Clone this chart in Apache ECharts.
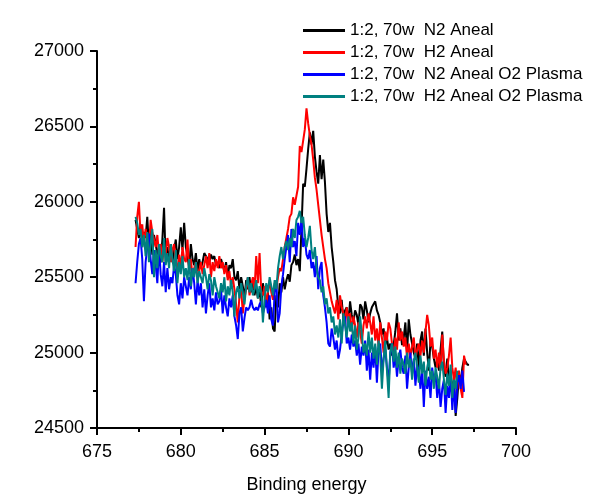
<!DOCTYPE html>
<html>
<head>
<meta charset="utf-8">
<script src="https://cdn.jsdelivr.net/npm/echarts@6/dist/echarts.min.js"></script>
<style>html,body{margin:0;padding:0;background:#fff}#c{width:604px;height:500px}</style>
</head>
<body>
<div id="c"></div>
<script>
const energy = [
677.3,677.4,677.5,677.6,677.7,677.8,677.9,678.0,678.1,678.2,
678.3,678.4,678.5,678.6,678.7,678.8,678.9,679.0,679.1,679.2,
679.3,679.4,679.5,679.6,679.7,679.8,679.9,680.0,680.1,680.2,
680.3,680.4,680.5,680.6,680.7,680.8,680.9,681.0,681.1,681.2,
681.3,681.4,681.5,681.6,681.7,681.8,681.9,682.0,682.1,682.2,
682.3,682.4,682.5,682.6,682.7,682.8,682.9,683.0,683.1,683.2,
683.3,683.4,683.5,683.6,683.7,683.8,683.9,684.0,684.1,684.2,
684.3,684.4,684.5,684.6,684.7,684.8,684.9,685.0,685.1,685.2,
685.3,685.4,685.5,685.6,685.7,685.8,685.9,686.0,686.1,686.2,
686.3,686.4,686.5,686.6,686.7,686.8,686.9,687.0,687.1,687.2,
687.3,687.4,687.5,687.6,687.7,687.8,687.9,688.0,688.1,688.2,
688.3,688.4,688.5,688.6,688.7,688.8,688.9,689.0,689.1,689.2,
689.3,689.4,689.5,689.6,689.7,689.8,689.9,690.0,690.1,690.2,
690.3,690.4,690.5,690.6,690.7,690.8,690.9,691.0,691.1,691.2,
691.3,691.4,691.5,691.6,691.7,691.8,691.9,692.0,692.1,692.2,
692.3,692.4,692.5,692.6,692.7,692.8,692.9,693.0,693.1,693.2,
693.3,693.4,693.5,693.6,693.7,693.8,693.9,694.0,694.1,694.2,
694.3,694.4,694.5,694.6,694.7,694.8,694.9,695.0,695.1,695.2,
695.3,695.4,695.5,695.6,695.7,695.8,695.9,696.0,696.1,696.2,
696.3,696.4,696.5,696.6,696.7,696.8,696.9,697.0,697.1,697.2
];

const seriesNames = [
  "1:2, 70w  N2 Aneal",
  "1:2, 70w  H2 Aneal",
  "1:2, 70w  N2 Aneal O2 Plasma",
  "1:2, 70w  H2 Aneal O2 Plasma"
];

const n2Aneal = [
25880,25820,25760,25850,25700,25800,25760,25900,25700,25820,
25650,25780,25720,25650,25700,25600,25750,25960,25600,25700,
25620,25720,25600,25680,25750,25620,25700,25830,25680,25860,
25700,25640,25560,25720,25620,25580,25660,25540,25620,25560,
25600,25660,25640,25620,25600,25650,25620,25640,25580,25600,
25560,25620,25580,25540,25600,25500,25580,25560,25620,25500,
25480,25540,25420,25500,25440,25360,25480,25420,25500,25400,
25460,25380,25440,25360,25420,25300,25460,25380,25300,25400,
25220,25300,25160,25140,25380,25300,25460,25400,25500,25420,
25480,25520,25470,25580,25600,25650,25580,25620,25540,25820,
26120,26100,26220,26350,26460,26380,26470,26300,26200,26120,
26310,26150,26280,26130,25920,25800,25860,25700,25600,25480,
25420,25300,25260,25350,25220,25280,25300,25200,25340,25250,
25200,25280,25250,25180,25320,25300,25220,25340,25280,25200,
25260,25300,25320,25340,25280,25250,25200,25120,25160,25050,
25100,25020,25060,24980,25050,25140,25260,25080,25160,25050,
25100,25200,25000,25220,25120,25060,25000,24960,25060,24900,
25080,25140,24980,25160,25000,24880,25080,25040,24960,24900,
24960,24880,25020,25140,24900,24840,24960,24800,24880,24700,
24840,24580,24700,24860,24800,24900,24960,24940,24920,24920
];

const h2Aneal = [
25700,25900,26000,25780,25850,25720,25820,25760,25700,25880,
25800,25750,25700,25780,25650,25720,25600,25700,25650,25760,
25700,25600,25680,25720,25600,25550,25650,25560,25700,25620,
25600,25750,25540,25620,25500,25560,25600,25480,25540,25600,
25520,25580,25640,25560,25660,25500,25600,25540,25620,25560,
25640,25560,25600,25520,25580,25480,25540,25440,25500,25420,
25320,25200,25380,25420,25260,25360,25420,25500,25380,25450,
25500,25420,25640,25460,25660,25400,25380,25440,25320,25400,
25480,25400,25350,25460,25420,25500,25560,25540,25620,25700,
25760,25820,25900,25920,26030,25980,26040,26100,26370,26330,
26320,26480,26620,26520,26440,26380,26280,26160,26080,25980,
25880,25780,25700,25620,25560,25460,25400,25340,25300,25260,
25350,25220,25380,25300,25260,25180,25300,25220,25260,25140,
25240,25180,25100,25200,25140,25060,25180,25240,25160,25260,
25200,25120,25240,25080,25160,25040,25200,25100,25000,25140,
25080,25200,25160,25060,24980,25100,25020,25200,25080,25140,
25040,25100,24960,25060,24980,25040,25100,24960,25020,25060,
24980,25080,25000,25140,25250,25180,25040,25100,24960,25020,
24900,25000,24880,25120,24950,24860,24900,24980,25100,24900,
24820,24900,24760,24880,24760,24700,24980,24920
];

const n2AnealO2 = [
25460,25600,25720,25760,25620,25340,25600,25700,25790,25620,
25520,25680,25580,25460,25700,25520,25440,25600,25400,25560,
25420,25500,25460,25580,25520,25380,25320,25460,25360,25500,
25440,25380,25500,25420,25560,25460,25320,25480,25380,25460,
25300,25420,25260,25380,25460,25300,25360,25280,25400,25320,
25340,25420,25260,25380,25300,25240,25360,25300,25380,25240,
25180,25090,25260,25300,25140,25230,25300,25280,25300,25350,
25300,25280,25300,25280,25320,25340,25260,25300,25350,25260,
25380,25220,25180,25400,25480,25200,25260,25440,25520,25620,
25700,25780,25600,25820,25700,25740,25640,25860,25780,25880,
25700,25760,25650,25620,25680,25560,25600,25500,25640,25420,
25560,25600,25380,25300,25200,25060,25040,25160,25100,25020,
25080,24960,25020,25120,25200,25240,25060,25100,25020,25120,
25040,25080,24980,25060,24920,25040,24980,25080,24880,25020,
24820,25000,24900,25040,24800,25020,25060,24880,24960,25020,
24900,24800,25000,25060,24900,24980,24840,24960,25020,24900,
24860,24980,24760,24900,25000,24860,24960,24780,24920,24880,
24760,24900,24640,24880,24760,24840,24700,24900,24800,24860,
24700,24820,24640,24760,24820,24600,24780,24700,24860,24620,
24780,24600,24800,24850,24760,24880,24740
];

const h2AnealO2 = [
25900,25860,25780,25820,25700,25780,25640,25800,25600,25720,
25820,25500,25680,25560,25720,25640,25600,25760,25580,25660,
25560,25720,25620,25540,25680,25460,25600,25520,25640,25500,
25560,25480,25620,25440,25560,25500,25600,25460,25540,25500,
25460,25560,25500,25420,25520,25480,25380,25500,25440,25400,
25360,25460,25400,25500,25340,25440,25380,25480,25400,25240,
25400,25440,25360,25460,25400,25320,25440,25500,25400,25460,
25380,25420,25480,25360,25440,25400,25200,25360,25460,25400,
25500,25440,25380,25480,25420,25560,25640,25700,25620,25700,
25740,25680,25760,25700,25820,25760,25880,25900,25940,25860,
25900,25780,25700,25760,25840,25680,25620,25700,25560,25500,
25480,25400,25440,25320,25360,25260,25300,25200,25240,25120,
25180,25100,25220,25060,25260,25180,25100,25240,25140,25200,
25060,25180,25020,25100,25240,25120,25000,25060,24980,25140,
25000,25100,24960,25060,24920,25080,24980,24760,24960,25080,
24880,24700,25000,25060,24940,25040,24900,25000,24860,24960,
24920,24860,25000,24900,24960,24820,24940,25000,24900,24800,
24980,24860,24940,24780,24900,24960,24820,24880,24760,24900,
24840,24760,24900,24940,24820,24720,24860,24780,24920,24700,
24820,24760,24880
];

const colors = ["#000000", "#ff0000", "#0000ff", "#008080"];
const xTicks = { min: 675, max: 700, interval: 5 };
const yTicks = { min: 24500, max: 27000, interval: 500 };

function pairs(vals) { return vals.map((v, i) => [energy[i], v]); }

const chart = echarts.init(document.getElementById('c'), null, { renderer: 'canvas' });
const font = "'Liberation Sans', Arial, sans-serif";
const axisCommon = {
  axisLine: { show: true, onZero: false, lineStyle: { color: '#000', width: 2 } },
  axisTick: { show: true, inside: false, length: 7, lineStyle: { color: '#000', width: 2 } },
  minorTick: { show: true, splitNumber: 2, length: 4, lineStyle: { color: '#000', width: 2 } },
  splitLine: { show: false },
  axisLabel: { color: '#000', fontSize: 18, fontFamily: font, formatter: v => String(v) }
};
chart.setOption({
  animation: false,
  backgroundColor: '#fff',
  color: colors,
  grid: { left: 97, right: 88, top: 51, bottom: 72, containLabel: false },
  legend: {
    orient: 'vertical', left: 298, top: 17,
    itemWidth: 42, itemHeight: 3, itemGap: 5, icon: 'rect',
    textStyle: { color: '#000', fontSize: 17, fontFamily: font, lineHeight: 17 },
    data: seriesNames
  },
  xAxis: Object.assign({}, axisCommon, {
    type: 'value', min: xTicks.min, max: xTicks.max, interval: xTicks.interval,
    name: 'Binding energy', nameLocation: 'middle', nameGap: 48,
    nameTextStyle: { color: '#000', fontSize: 18, fontFamily: font },
    axisLabel: Object.assign({}, axisCommon.axisLabel, { margin: 15 })
  }),
  yAxis: Object.assign({}, axisCommon, {
    type: 'value', min: yTicks.min, max: yTicks.max, interval: yTicks.interval,
    axisLabel: Object.assign({}, axisCommon.axisLabel, { margin: 13 })
  }),
  series: [n2Aneal, h2Aneal, n2AnealO2, h2AnealO2].map((vals, i) => ({
    name: seriesNames[i], type: 'line', data: pairs(vals),
    showSymbol: false, symbol: 'none',
    lineStyle: { width: 2, color: colors[i] }, itemStyle: { color: colors[i] }
  }))
});
</script>
</body>
</html>
